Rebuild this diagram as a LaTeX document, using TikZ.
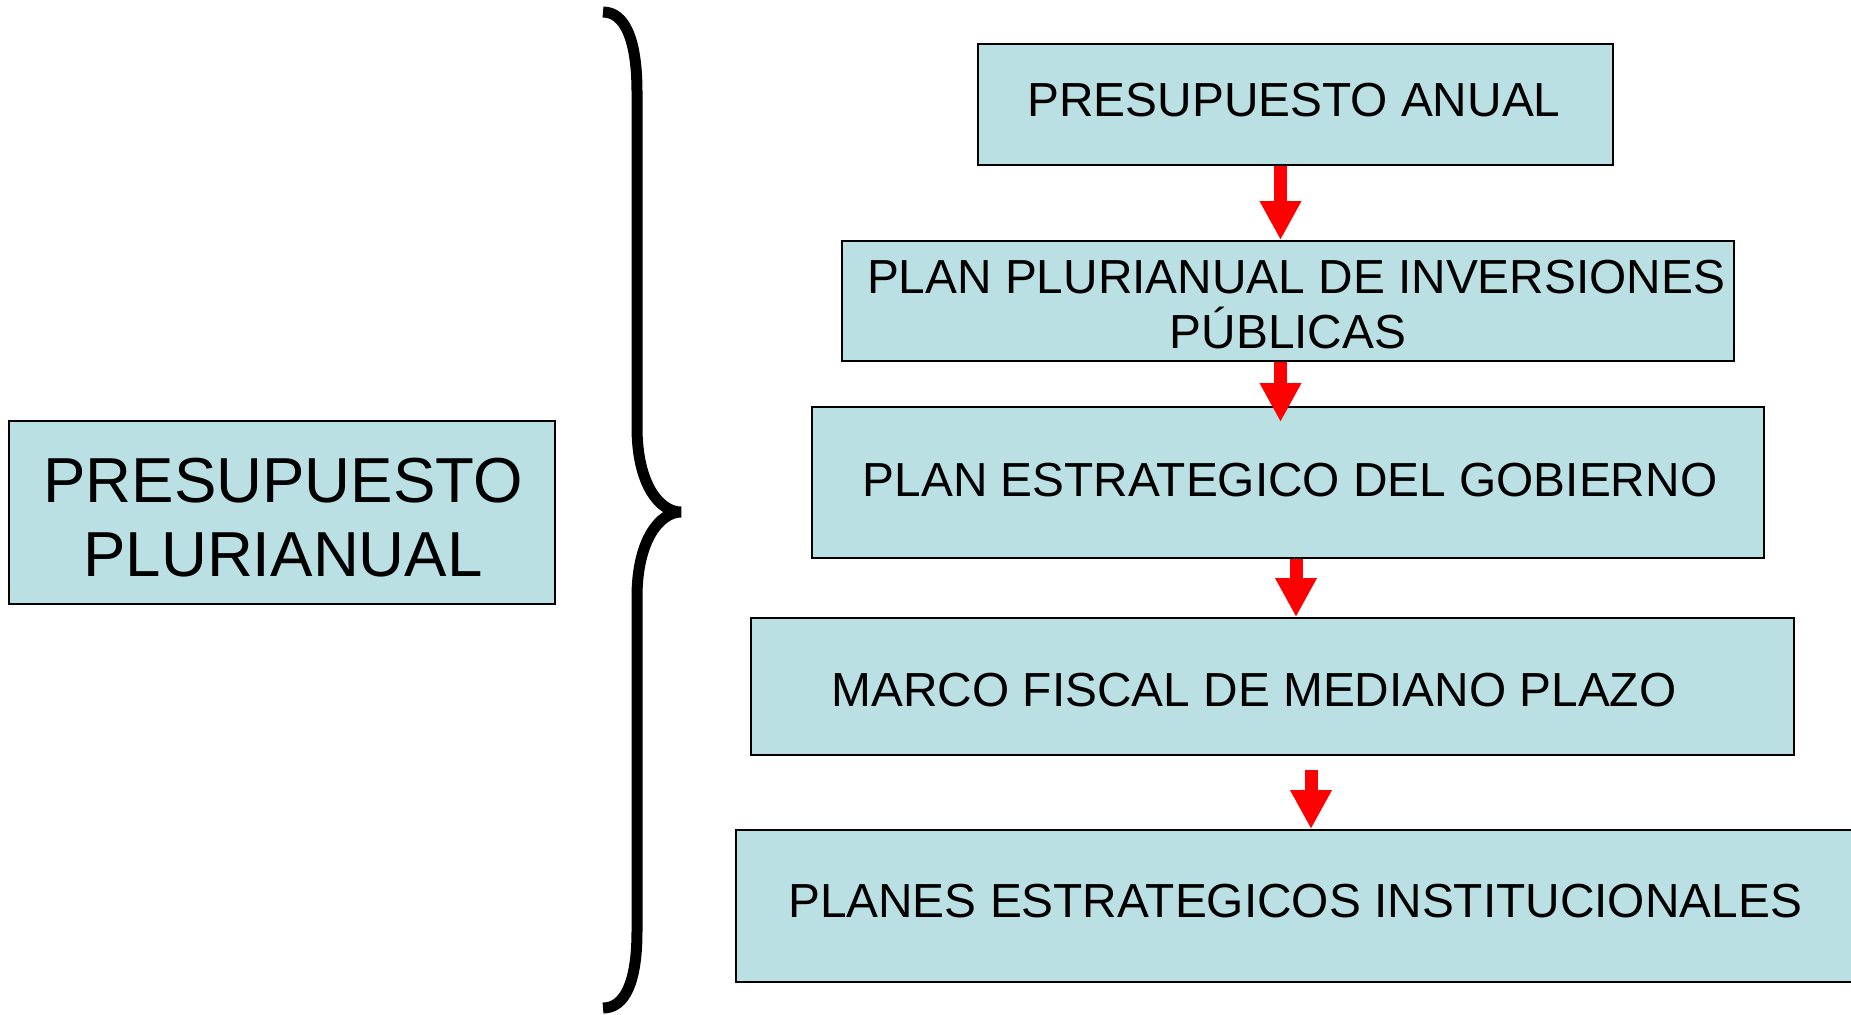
\documentclass[tikz,border=0pt]{standalone}
\usepackage{fontspec}
\setmainfont{Liberation Sans}
\usetikzlibrary{arrows.meta}
\definecolor{boxfill}{RGB}{187,224,227}
\definecolor{arrred}{RGB}{255,0,0}
\begin{document}
\begin{tikzpicture}[x=0.5pt,y=-0.5pt,
  box/.style={draw=black, fill=boxfill, line width=1pt, inner sep=0pt},
  txt/.style={anchor=base, inner sep=0pt, font=\fontsize{23.9pt}{28pt}\selectfont},
  bigtxt/.style={anchor=base, inner sep=0pt, font=\fontsize{31.8pt}{37pt}\selectfont},
  flow/.style={draw=arrred, line width=6.5pt, line cap=butt, -{Triangle[width=19.5pt,length=19.5pt]}}
]
\clip (0,0) rectangle (1851,1014);
\fill[white] (0,0) rectangle (1851,1014);

% boxes
\node[box, minimum width=273pt, minimum height=91.5pt] (lb) at (282,512.5) {};
\node[box, minimum width=317.5pt, minimum height=60.5pt] (b1) at (1295.5,104.5) {};
\node[box, minimum width=446pt, minimum height=60pt] (b2) at (1288,301) {};
\node[box, minimum width=476pt, minimum height=75.5pt] (b3) at (1288,482.5) {};
\node[box, minimum width=521.5pt, minimum height=68.5pt] (b4) at (1272.5,686.5) {};
\node[box, minimum width=567pt, minimum height=76pt] (b5) at (1303,906) {};

% texts
\node[bigtxt] (lt1) at (283,502) {PRESUPUESTO};
\node[bigtxt] (lt2) at (283,576) {PLURIANUAL};
\node[txt] (t1) at (1294,116) {PRESUPUESTO ANUAL};
\node[txt] (t2a) at (1296,293) {PLAN PLURIANUAL DE INVERSIONES};
\node[txt] (t2b) at (1288,348) {PÚBLICAS};
\node[txt] (t3) at (1290,496) {PLAN ESTRATEGICO DEL GOBIERNO};
\node[txt] (t4) at (1254,706) {MARCO FISCAL DE MEDIANO PLAZO};
\node[txt] (t5) at (1295,917) {PLANES ESTRATEGICOS INSTITUCIONALES};

% brace
\draw[line width=5.5pt, line cap=butt] (603,12) .. controls (625,12) and (637,40) .. (637,92)
  -- (637,427) .. controls (637,485) and (660,512) .. (681,512)
  .. controls (660,512) and (637,540) .. (637,597)
  -- (637,931) .. controls (637,982) and (625,1008) .. (603,1008);

% arrows
\coordinate (a4s) at (1311,770);
\draw[flow] (b1.south -| 1280.5,0) -- (1280.5,240);
\draw[flow] (b2.south -| 1280.5,0) -- (1280.5,422);
\draw[flow] (b3.south -| 1296,0) -- (b4.north -| 1296,0);
\draw[flow] (a4s) -- (b5.north -| a4s);
\end{tikzpicture}
\end{document}
